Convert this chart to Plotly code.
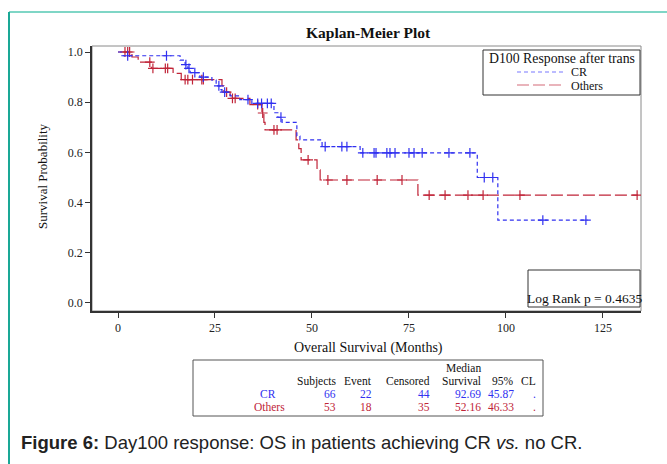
import plotly.graph_objects as go

# ---------------- data ----------------
cr_times = [0, 1.0, 16.0, 17.3, 18.0, 18.6, 21.1, 24.2, 25.3, 26.3, 26.8, 28.9, 31.4,
            34.5, 40.2, 41.2, 42.3, 46.1, 46.9, 52.6, 62.4, 92.6, 97.9]
cr_surv = [1.0, 0.985, 0.968, 0.95, 0.935, 0.918, 0.90, 0.888, 0.865, 0.85, 0.84, 0.825,
           0.81, 0.795, 0.758, 0.74, 0.72, 0.665, 0.65, 0.623, 0.598, 0.50, 0.33]
cr_end = 121.0
cr_censor = [2.5, 12.5, 17.5, 18.3, 19.8, 22.0, 26.0, 27.5, 33.5, 36.0, 37.0, 38.5, 39.5,
             42.0, 53.4, 57.7, 59.0, 63.1, 66.0, 66.5, 69.3, 70.1, 71.4, 75.0, 76.3, 78.4,
             85.3, 90.7, 94.4, 96.6, 109.5, 120.6]

oth_times = [0, 3.6, 5.2, 8.6, 14.2, 16.3, 26.8, 27.3, 28.9, 34.0, 37.1, 37.6, 37.9,
             45.9, 46.6, 47.2, 51.3, 52.1, 77.3]
oth_surv = [1.0, 0.98, 0.96, 0.935, 0.915, 0.89, 0.865, 0.84, 0.815, 0.79, 0.757, 0.72,
            0.69, 0.65, 0.615, 0.57, 0.53, 0.49, 0.43]
oth_end = 134.0
oth_censor = [1.8, 2.5, 3.0, 8.2, 9.0, 12.2, 12.8, 17.3, 18.0, 19.2, 21.6, 22.0, 28.0,
              29.5, 30.2, 36.0, 37.3, 40.2, 41.0, 49.0, 54.1, 59.0, 66.8, 73.2, 80.2,
              84.3, 90.2, 94.1, 103.6, 133.8]

group_names = ["CR", "Others"]
table_header = ["Subjects", "Event", "Censored", "Survival", "95%", "CL"]
table_cr = ["66", "22", "44", "92.69", "45.87", "."]
table_oth = ["53", "18", "35", "52.16", "46.33", "."]
log_rank_text = "Log Rank p = 0.4635"
legend_title = "D100 Response after trans"

BLUE = "#3030f0"
RED = "#c02438"
SERIF = "Liberation Serif, Times New Roman, serif"

W, H = 667, 464
L, R, T, B = 92, 641, 46, 311   # plot area in pixels


def px2x(px):
    return (px - L) / (R - L)


def py2y(py):
    return (B - py) / (B - T)


def surv_at(times, surv, t):
    s = surv[0]
    for ti, si in zip(times, surv):
        if ti <= t:
            s = si
    return s


fig = go.Figure()


def add_curve(times, surv, end, censor, color, dash, name):
    fig.add_trace(go.Scatter(
        x=list(times) + [end], y=list(surv) + [surv[-1]],
        mode="lines", line=dict(color=color, width=1.2, dash=dash, shape="hv"),
        name=name, showlegend=False, hoverinfo="skip"))
    fig.add_trace(go.Scatter(
        x=censor, y=[surv_at(times, surv, t) for t in censor],
        mode="markers",
        marker=dict(symbol="cross-thin", size=7, color=color,
                    line=dict(color=color, width=1.2)),
        showlegend=False, hoverinfo="skip"))


add_curve(oth_times, oth_surv, oth_end, oth_censor, RED, "12px,4px", "Others")
add_curve(cr_times, cr_surv, cr_end, cr_censor, BLUE, "4px,3px", "CR")

shapes = []
# teal page frame
shapes.append(dict(type="line", xref="paper", yref="paper", x0=px2x(9), x1=px2x(667),
                   y0=py2y(12), y1=py2y(12), line=dict(color="#7fd6c6", width=2)))
shapes.append(dict(type="line", xref="paper", yref="paper", x0=px2x(9), x1=px2x(9),
                   y0=py2y(12), y1=py2y(464), line=dict(color="#1aa896", width=2)))
# plot frame (top/right gray)
shapes.append(dict(type="rect", xref="paper", yref="paper", x0=0, x1=1, y0=0, y1=1,
                   line=dict(color="#8a8a8a", width=1), layer="below"))
# legend box
shapes.append(dict(type="rect", xref="paper", yref="paper", x0=px2x(483), x1=px2x(640),
                   y0=py2y(95), y1=py2y(50), line=dict(color="#333", width=1)))
shapes.append(dict(type="line", xref="paper", yref="paper", x0=px2x(517), x1=px2x(563),
                   y0=py2y(72), y1=py2y(72), line=dict(color="#7878ff", width=1.2, dash="4px,3px")))
shapes.append(dict(type="line", xref="paper", yref="paper", x0=px2x(517), x1=px2x(563),
                   y0=py2y(85), y1=py2y(85), line=dict(color="#d46a78", width=1.2, dash="12px,4px")))
# log rank box
shapes.append(dict(type="rect", xref="paper", yref="paper", x0=px2x(528), x1=px2x(640),
                   y0=py2y(307), y1=py2y(270), line=dict(color="#333", width=1)))
# table box
shapes.append(dict(type="rect", xref="paper", yref="paper", x0=px2x(193), x1=px2x(543),
                   y0=py2y(416), y1=py2y(360), line=dict(color="#555", width=1)))

ann = []


def text(s, px, py, size=11, color="#111", xanchor="center", family=SERIF, **kw):
    ann.append(dict(text=s, x=px2x(px), y=py2y(py), xref="paper", yref="paper",
                    showarrow=False, xanchor=xanchor, yanchor="middle", borderpad=0,
                    font=dict(size=size, color=color, family=family), **kw))


text("<b>Kaplan-Meier Plot</b>", 368, 32, size=15.5)
text("Survival Probability", 42, 176, size=13, textangle=-90)
text("Overall Survival (Months)", 368, 348, size=14)
text(legend_title, 562, 58, size=13.8)
text(group_names[0], 570, 72, size=12, xanchor="left")
text(group_names[1], 570, 85.5, size=12, xanchor="left")
text(log_rank_text, 584, 298, size=13.5)

# table
TS = 11.5
text("Median", 482, 368, size=TS, xanchor="right")
col_right = [337, 373, 431, 482, 515, 537]
for s, cx in zip(table_header, col_right):
    text(s, cx, 381, size=TS, xanchor="right")
text(group_names[0], 277, 394, size=TS, color=BLUE, xanchor="right")
text(group_names[1], 286, 407, size=TS, color=RED, xanchor="right")
for s, cx in zip(table_cr, col_right):
    text(s, cx, 394, size=TS, color=BLUE, xanchor="right")
for s, cx in zip(table_oth, col_right):
    text(s, cx, 407, size=TS, color=RED, xanchor="right")

# caption
text("<b>Figure 6:</b> Day100 response: OS in patients achieving CR <i>vs.</i> no CR.",
     20, 443, size=18.5, color="#222", xanchor="left",
     family="Liberation Sans, Arial, sans-serif")

fig.update_layout(
    width=W, height=H,
    margin=dict(l=L, r=W - R, t=T, b=H - B, pad=0),
    paper_bgcolor="white", plot_bgcolor="white",
    showlegend=False,
    shapes=shapes, annotations=ann,
    font=dict(family=SERIF, size=12, color="#222"),
)
fig.update_xaxes(range=[-6.7, 134.8], tickvals=[0, 25, 50, 75, 100, 125],
                 ticks="outside", ticklen=5, tickwidth=1.2, tickcolor="#333",
                 showline=True, linecolor="#333", linewidth=1.5, mirror=False,
                 showgrid=False, zeroline=False, tickfont=dict(size=12, family=SERIF))
fig.update_yaxes(range=[-0.0319, 1.0239], tickvals=[0, 0.2, 0.4, 0.6, 0.8, 1.0],
                 tickformat=".1f",
                 ticks="outside", ticklen=5, tickwidth=1.2, tickcolor="#333",
                 showline=True, linecolor="#333", linewidth=1.5, mirror=False,
                 showgrid=False, zeroline=False, tickfont=dict(size=12, family=SERIF))

fig.write_html("out.html", config={"displayModeBar": False},
               post_script="document.body.style.margin='0px';")
